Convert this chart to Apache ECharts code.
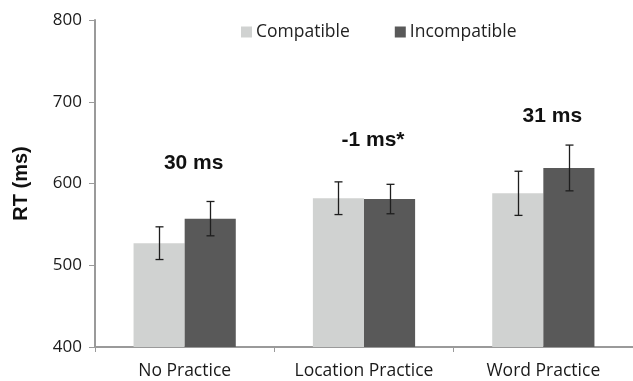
<!DOCTYPE html>
<html>
<head>
<meta charset="utf-8">
<script src="https://cdn.jsdelivr.net/npm/echarts@6/dist/echarts.min.js"></script>
<style>
  html, body { margin: 0; padding: 0; background: #fff; }
  #chart { width: 633px; height: 381px; }
</style>
</head>
<body>
<div id="chart"></div>
<script>
// Mean response times per practice condition, with error bar half-widths
const categories = ['No Practice', 'Location Practice', 'Word Practice'];
const compatible = [527, 582, 588];
const incompatible = [557, 581, 619];
const compatibleErr = [20, 20, 27];
const incompatibleErr = [21, 18, 28];
const effectLabels = ['30 ms', '-1 ms*', '31 ms'];
const effectLabelY = [625, 653, 682];
const yTicks = { min: 400, max: 800, interval: 100 };

const chart = echarts.init(document.getElementById('chart'));

const CAT_GAP = 0.43;                 // barCategoryGap as a fraction
const HALF_BAR = (1 - CAT_GAP) / 4;   // bar centre offset as fraction of band

function errorBarSeries(values, errs, side) {
  return {
    type: 'custom',
    z: 10,
    silent: true,
    data: values.map((v, i) => [i, v - errs[i], v + errs[i]]),
    renderItem: function (params, api) {
      const band = api.size([1, 0])[0];
      const lo = api.coord([api.value(0), api.value(1)]);
      const hi = api.coord([api.value(0), api.value(2)]);
      const x = Math.round(lo[0] + side * band * HALF_BAR) + 0.5;
      const cap = 4;
      const style = { stroke: '#1e1e1e', lineWidth: 1.3 };
      return {
        type: 'group',
        children: [
          { type: 'line', shape: { x1: x, y1: lo[1], x2: x, y2: hi[1] }, style: style },
          { type: 'line', shape: { x1: x - cap, y1: lo[1], x2: x + cap, y2: lo[1] }, style: style },
          { type: 'line', shape: { x1: x - cap, y1: hi[1], x2: x + cap, y2: hi[1] }, style: style }
        ]
      };
    }
  };
}

// Difference labels above each pair of bars
function effectLabelSeries() {
  return {
    type: 'custom',
    z: 11,
    silent: true,
    data: effectLabelY.map((v, i) => [i, v]),
    renderItem: function (params, api) {
      const p = api.coord([api.value(0), api.value(1)]);
      return {
        type: 'text',
        x: p[0] + 9,
        y: p[1],
        style: {
          text: effectLabels[params.dataIndex],
          fill: '#111',
          font: 'bold 21px "Liberation Sans"',
          align: 'center',
          verticalAlign: 'middle'
        }
      };
    }
  };
}

chart.setOption({
  animation: false,
  textStyle: { fontFamily: 'Open Sans' },
  grid: { left: 95, right: -9, top: 20, bottom: 34, containLabel: false },
  legend: {
    left: 236,
    top: 18,
    itemWidth: 11,
    itemHeight: 11,
    itemGap: 45,
    icon: 'rect',
    textStyle: { fontFamily: 'Open Sans', fontSize: 17.5, color: '#222', padding: [0, 0, 0, -1] },
    data: ['Compatible', 'Incompatible']
  },
  xAxis: {
    type: 'category',
    data: categories,
    axisLine: { lineStyle: { color: '#9a9a9a', width: 2 } },
    axisTick: { show: true, length: 5, lineStyle: { color: '#9a9a9a' } },
    axisLabel: {
      color: '#1a1a1a', fontSize: 17.5, margin: 15, fontFamily: 'Open Sans',
      interval: 0, hideOverlap: false
    }
  },
  yAxis: {
    type: 'value',
    min: yTicks.min,
    max: yTicks.max,
    interval: yTicks.interval,
    name: 'RT (ms)',
    nameLocation: 'middle',
    nameGap: 64,
    nameTextStyle: { fontFamily: 'Liberation Sans', fontWeight: 'bold', fontSize: 20, color: '#111' },
    splitLine: { show: false },
    axisLine: { show: true, lineStyle: { color: '#9a9a9a', width: 2 } },
    axisTick: { show: true, length: 6, lineStyle: { color: '#9a9a9a' } },
    axisLabel: { color: '#1a1a1a', fontSize: 17, margin: 13, fontFamily: 'Open Sans' }
  },
  series: [
    {
      name: 'Compatible',
      type: 'bar',
      data: compatible,
      barGap: '0%',
      barCategoryGap: '43%',
      itemStyle: { color: '#d0d2d1' }
    },
    {
      name: 'Incompatible',
      type: 'bar',
      data: incompatible,
      barGap: '0%',
      barCategoryGap: '43%',
      itemStyle: { color: '#595959' }
    },
    errorBarSeries(compatible, compatibleErr, -1),
    errorBarSeries(incompatible, incompatibleErr, 1),
    effectLabelSeries()
  ]
});
</script>
</body>
</html>
